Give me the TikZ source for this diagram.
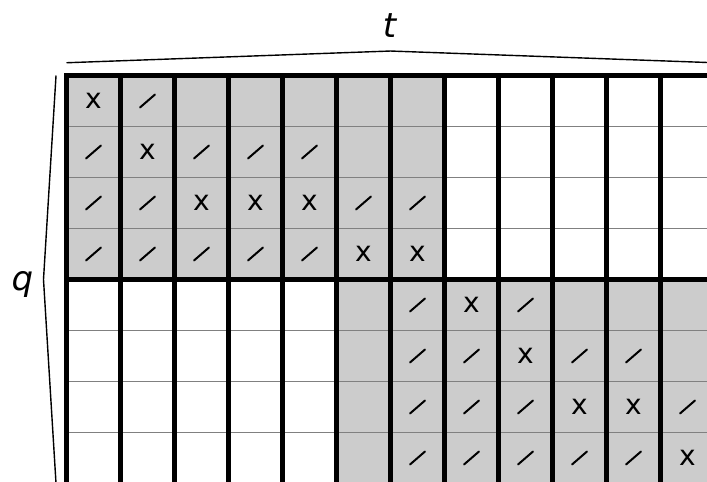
\documentclass[tikz,border=0pt]{standalone}
\usepackage{fontspec}
\setmainfont{DejaVu Sans}
\usetikzlibrary{positioning}
\definecolor{Cell}{HTML}{CCCCCC}
\definecolor{Rule}{HTML}{808080}
\tikzset{
  thinrule/.style={draw=Rule, line width=1.4pt},
  thickrule/.style={draw=black, line width=5.5pt, line cap=rect},
  crossmark/.style={font=\fontsize{28}{28}\selectfont, inner sep=0pt},
  slashmark/.style={line width=2pt, line cap=round},
  bracket/.style={draw=black, line width=1.4pt, line join=round},
  axislabel/.style={font=\fontsize{34}{34}\selectfont\itshape, inner sep=0pt},
}

\begin{document}
\begin{tikzpicture}[x=54pt, y=-51pt]
  \useasboundingbox (-1.2315,-1.4804) rectangle (11.8611,7.9706);
  \clip (-1.2315,-1.4804) rectangle (11.8611,7.9706);

  % shaded blocks
  \fill[Cell] (0,0) rectangle (7,4);
  \fill[Cell] (5,4) rectangle (12,8);

  % grid
  \foreach \r in {1,2,3,5,6,7}
    \draw[thinrule] (0,\r) -- (12,\r);
  \foreach \c in {0,...,12}
    \draw[thickrule] (\c,0) -- (\c,8.3);
  \draw[thickrule] (0,0) -- (12,0);
  \draw[thickrule] (0,4) -- (12,4);

  % marks
  \foreach \r/\c in {0/0,1/1,2/2,2/3,2/4,3/5,3/6,4/7,5/8,6/9,6/10,7/11}
    \node[crossmark] (x-\r-\c) at (\c+0.5,\r+0.5) {x};
  \foreach \r/\c in {0/1,1/0,1/2,1/3,1/4,2/0,2/1,2/5,2/6,3/0,3/1,3/2,3/3,3/4,
                     4/6,4/8,5/6,5/7,5/9,5/10,6/6,6/7,6/8,6/11,7/6,7/7,7/8,7/9,7/10} {
    \coordinate (s-\r-\c) at (\c+0.5,\r+0.5);
    \draw[slashmark] ([shift={(-7.5pt,-6.5pt)}]s-\r-\c) -- ([shift={(7.5pt,6.5pt)}]s-\r-\c);
  }

  % braces and labels
  \coordinate (tl) at (0,-0.25);
  \coordinate (tm) at (6,-0.48);
  \coordinate (tr) at (12,-0.25);
  \draw[bracket] (tl) -- (tm) -- (tr);
  \coordinate (qt) at (-0.194,0);
  \coordinate (qm) at (-0.426,4);
  \coordinate (qb) at (-0.194,8);
  \draw[bracket] (qt) -- (qm) -- (qb);
  \node[axislabel] (tlabel) at (5.98,-0.975) {t};
  \node[axislabel] (qlabel) at (-0.815,4.09) {q};
\end{tikzpicture}
\end{document}
